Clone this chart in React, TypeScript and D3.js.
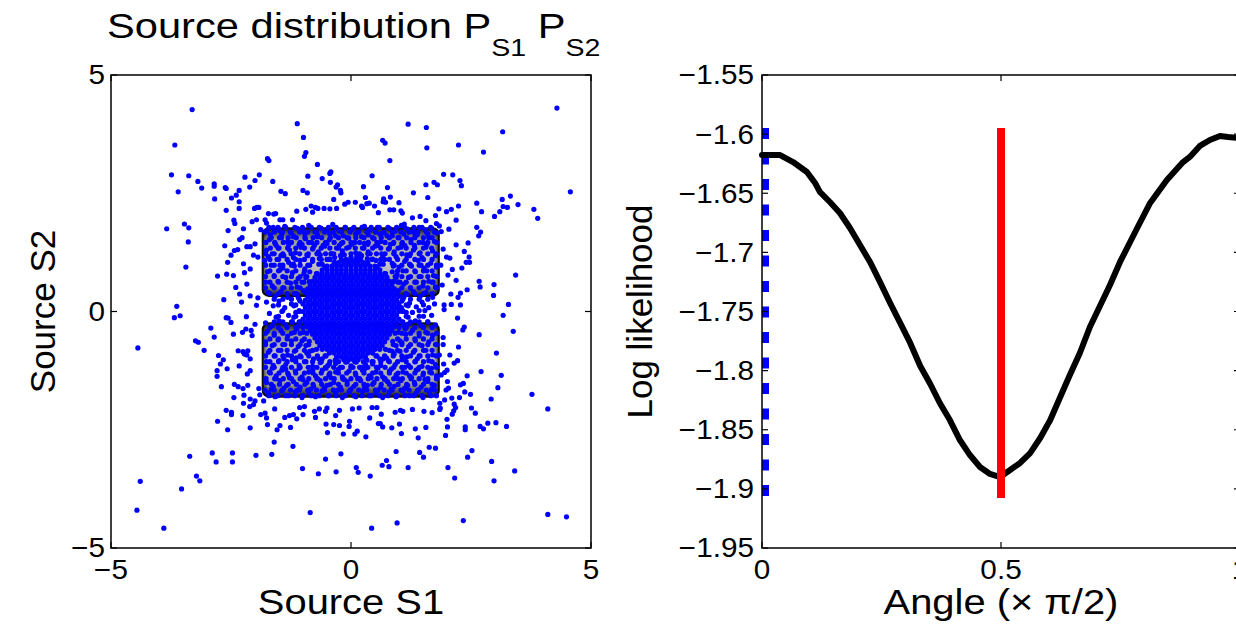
import React from 'react';
import * as d3 from 'd3';

const W = 1236;
const H = 624;
const FONT = "'Liberation Sans', Arial, Helvetica, sans-serif";

// ---------- Left panel: source samples ----------
const s1Ticks = [-5, 0, 5];
const s2Ticks = [-5, 0, 5];

// sparse samples [S1, S2]
const outerPoints: [number, number][] = [
  [-3.31, 4.27], [4.29, 4.3], [-1.12, 3.97], [1.19, 3.96], [1.57, 3.89], [3.16, 3.8], [-3.67, 3.52],
  [-0.99, 3.68], [0.66, 3.62], [0.71, 3.56], [1.58, 3.46], [2.24, 3.52], [2.76, 3.37], [-0.94, 3.36],
  [-0.97, 3.28], [-1.74, 3.23], [-1.71, 3.19], [0.81, 3.19], [-0.7, 3.11], [-0.42, 2.95], [-0.44, 2.92],
  [-3.74, 2.89], [-3.38, 2.87], [-1.91, 2.89], [-0.9, 2.86], [0.44, 2.87], [1.93, 2.9], [2.12, 2.89],
  [-3.19, 2.75], [-2.85, 2.7], [-2.85, 2.65], [-2.62, 2.62], [-2.6, 2.6], [-3.11, 2.61], [-2.21, 2.84],
  [-2.0, 2.77], [-2.11, 2.63], [-1.63, 2.75], [-0.6, 2.81], [-0.43, 2.73], [-0.28, 2.68], [-0.31, 2.63],
  [0.26, 2.64], [0.76, 2.62], [1.56, 2.68], [1.73, 2.73], [1.8, 2.68], [2.27, 2.77], [2.3, 2.66],
  [-3.6, 2.53], [-2.84, 2.38], [-2.33, 2.56], [-2.39, 2.46], [-2.49, 2.4], [-2.33, 2.32], [-2.33, 2.18],
  [-2.6, 2.14], [-1.46, 2.54], [-1.37, 2.49], [-1.0, 2.56], [-0.91, 2.51], [-0.22, 2.56], [-0.21, 2.51],
  [-0.36, 2.37], [0.3, 2.41], [0.82, 2.42], [0.68, 2.38], [1.3, 2.51], [1.6, 2.41], [3.32, 2.44],
  [3.15, 2.37], [4.57, 2.53], [2.62, 2.29], [2.24, 2.23], [3.17, 2.22], [3.26, 2.2], [3.48, 2.26],
  [3.81, 2.16], [3.89, 1.97], [3.1, 2.11], [2.99, 2.01], [2.72, 2.11], [1.83, 2.17], [1.99, 2.11],
  [2.09, 2.16], [2.19, 1.93], [2.62, 1.78], [2.7, 1.68], [2.66, 1.6], [2.44, 1.45], [2.19, 1.41],
  [2.36, 1.27], [2.46, 1.15], [2.4, 1.04], [2.47, 1.04], [2.31, 0.92], [2.11, 0.89], [3.43, 0.77],
  [2.19, 0.66], [2.67, 0.64], [2.69, 0.52], [2.98, 0.57], [2.42, 0.46], [2.28, 0.39], [2.08, 0.37],
  [2.97, 0.34], [2.23, 0.3], [3.28, 0.15], [-3.84, 1.75], [-3.47, 1.85], [-3.38, 1.77], [-3.39, 1.47],
  [-3.44, 0.94], [-3.63, 0.11], [-2.78, 0.75], [-2.65, 0.25], [-2.59, 0.79], [-2.45, 0.76], [-2.63, 1.39],
  [-2.56, 1.71], [-2.44, 1.93], [-2.42, 1.86], [-2.24, 1.75], [-2.5, 1.19], [-2.57, 1.04], [-2.43, 1.29],
  [-2.36, 1.31], [-2.32, 1.52], [-2.27, 1.56], [-2.24, 1.01], [-2.22, 0.82], [-2.1, 0.9], [-2.17, 1.37],
  [-2.1, 1.37], [-2.0, 1.43], [-2.03, 1.19], [-1.94, 1.15], [-2.4, 0.51], [-2.32, 0.37], [-2.28, 0.2],
  [-2.17, 0.58], [-2.1, 0.33], [-1.94, 0.29], [-1.97, 0.13], [-2.01, 2.18], [-1.96, 2.2], [-1.92, 2.2],
  [-2.06, 1.9], [-1.97, 1.94], [-1.79, 1.94], [-1.76, 1.87], [-1.88, 1.73], [-1.72, 2.07], [-1.61, 2.06],
  [-1.57, 2.07], [-1.48, 1.94], [-1.42, 1.94], [-1.22, 1.94], [-1.13, 2.12], [-0.94, 2.16], [-0.83, 2.23],
  [-0.74, 2.2], [-0.8, 2.1], [-0.69, 2.18], [-0.56, 2.18], [-0.44, 2.17], [-0.3, 2.18], [-0.13, 2.27],
  [-0.06, 2.31], [0.09, 2.31], [0.22, 2.23], [0.24, 2.2], [0.33, 2.28], [0.38, 2.29], [0.49, 2.23],
  [0.57, 2.09], [0.67, 2.32], [0.72, 2.31], [0.81, 2.15], [0.89, 2.15], [1.0, 2.3], [1.04, 2.13],
  [1.07, 2.08], [1.11, 1.85], [1.28, 1.98], [1.44, 2.01], [1.56, 1.92], [1.76, 2.03], [1.78, 1.86],
  [1.84, 1.81], [2.04, 1.74], [1.88, 1.69], [1.92, 1.32], [1.99, 1.15], [2.06, 1.13], [1.87, 0.98],
  [2.02, 0.77], [1.9, 0.56], [1.71, 0.62], [1.94, 0.14], [1.94, 0.04], [2.09, 0.15], [2.28, 0.14],
  [-3.68, -0.13], [-3.56, -0.09], [-4.44, -0.77], [-2.92, -0.35], [-2.85, -0.54], [-3.24, -0.62],
  [-3.18, -0.65], [-3.06, -0.82], [-2.6, -0.13], [-2.56, -0.14], [-2.5, -0.23], [-2.18, -0.11],
  [-2.45, -0.48], [-2.26, -0.44], [-2.19, -0.37], [-2.08, -0.4], [-2.06, -0.51], [-2.0, -0.27],
  [-2.76, -0.93], [-2.66, -1.02], [-2.72, -1.11], [-2.58, -1.21], [-2.79, -1.25], [-2.79, -1.37],
  [-2.7, -1.59], [-2.33, -1.15], [-2.35, -0.83], [-2.25, -0.85], [-2.22, -0.9], [-2.15, -0.83],
  [-2.17, -0.92], [-2.1, -1.0], [-2.16, -1.32], [-2.1, -1.25], [-2.43, -1.54], [-2.35, -1.59],
  [-2.25, -1.63], [-2.15, -1.56], [-2.23, -1.77], [-2.44, -1.82], [-2.24, -1.94], [-2.1, -1.85],
  [-2.0, -1.89], [-2.11, -2.01], [-2.03, -1.97], [-1.92, -1.63], [-1.9, -1.76], [-1.82, -1.89],
  [-2.6, -2.09], [-2.49, -2.13], [-2.49, -2.18], [-2.25, -2.2], [-2.78, -2.32], [-2.57, -2.5],
  [-2.1, -2.46], [-1.88, -2.18], [-1.79, -2.15], [-1.76, -2.25], [-1.74, -2.39], [-1.59, -2.06],
  [-1.6, -2.76], [-1.54, -2.5], [-1.48, -2.41], [-1.38, -2.24], [-1.26, -2.45], [-1.28, -2.2],
  [-1.21, -2.85], [-1.2, -2.18], [-1.13, -2.27], [-1.07, -2.03], [-1.0, -2.18], [-0.97, -2.01],
  [-0.76, -2.11], [-0.74, -2.24], [-0.66, -2.06], [-0.53, -2.11], [-0.5, -2.04], [-0.49, -2.56],
  [-0.52, -2.38], [-0.36, -2.39], [-0.24, -2.41], [-0.32, -2.2], [-0.24, -2.09], [-0.16, -2.59],
  [-0.03, -2.32], [-0.04, -2.43], [0.08, -2.59], [0.13, -2.53], [0.03, -2.06], [0.17, -2.04],
  [0.31, -2.65], [0.39, -2.25], [0.44, -2.03], [0.54, -2.03], [0.63, -2.17], [0.57, -2.37],
  [0.61, -2.37], [0.66, -2.44], [0.85, -2.46], [0.92, -2.13], [1.01, -2.38], [1.05, -2.58],
  [1.03, -2.09], [1.08, -2.11], [1.28, -2.07], [1.34, -2.48], [1.4, -2.67], [1.56, -2.45],
  [1.52, -2.11], [1.69, -2.14], [1.85, -2.07], [1.97, -2.62], [2.0, -2.28], [2.01, -2.44],
  [2.11, -2.17], [2.14, -2.1], [2.18, -2.03], [2.38, -2.44], [2.38, -2.5], [2.51, -2.04],
  [2.59, -2.15], [2.69, -2.43], [2.76, -2.48], [2.85, -2.36], [3.02, -2.35], [3.24, -2.43],
  [2.92, -1.85], [2.49, -1.75], [2.37, -1.7], [2.28, -1.55], [2.34, -1.52], [2.42, -1.36],
  [2.71, -1.27], [3.13, -1.35], [3.06, -1.61], [3.03, -0.88], [3.77, -1.75], [4.1, -2.06],
  [2.22, -1.04], [2.24, -0.75], [2.67, -0.49], [3.38, -0.42], [3.17, -0.08], [2.22, -0.14],
  [2.36, -0.33], [2.33, -0.39], [2.15, -1.09], [2.06, -0.92], [1.92, -0.55], [1.92, -0.7],
  [1.84, -0.92], [1.93, -1.11], [1.95, -1.29], [2.01, -1.48], [1.98, -1.66], [2.1, -1.83],
  [2.26, -1.82], [2.15, -1.96], [1.95, -1.87], [1.86, -2.04], [1.85, -1.94], [2.03, -1.62],
  [1.88, -1.34], [2.0, -1.24],
  [-3.36, -3.06], [-2.89, -2.99], [-2.81, -3.18], [-2.47, -2.99], [-2.47, -3.18], [-1.98, -3.04],
  [-1.65, -3.02], [-3.22, -3.48], [-3.15, -3.58], [-3.53, -3.75], [-4.39, -3.59], [-4.46, -4.2],
  [-3.9, -4.58], [-1.01, -3.32], [-0.68, -3.43], [-0.53, -3.12], [-0.31, -3.39], [-0.21, -3.01],
  [0.11, -3.3], [0.15, -3.4], [0.4, -3.48], [0.65, -3.25], [0.74, -3.15], [0.79, -3.28],
  [0.94, -2.96], [1.19, -3.3], [1.43, -2.98], [1.51, -3.08], [1.63, -2.87], [1.76, -2.89],
  [2.02, -3.3], [2.16, -3.52], [2.43, -3.08], [2.52, -2.94], [2.93, -3.17], [2.98, -3.58],
  [3.41, -3.37], [-0.85, -4.25], [0.43, -4.58], [0.96, -4.47], [2.34, -4.42], [4.1, -4.29],
  [4.49, -4.34],
];

// samples inside the two squares, around the dense centre
const innerPoints: [number, number][] = [
  [-1.75, 1.7], [-1.62, 1.78], [-1.5, 1.72], [-1.38, 1.8], [-1.25, 1.66], [-1.12, 1.76], [-1.0, 1.7],
  [-0.88, 1.82], [-0.75, 1.68], [-0.62, 1.76], [-0.5, 1.72], [-0.38, 1.84], [-0.25, 1.7], [-0.12, 1.78],
  [0.02, 1.74], [0.15, 1.68], [0.28, 1.8], [0.4, 1.72], [0.55, 1.78], [0.68, 1.66], [0.8, 1.76],
  [0.92, 1.7], [1.05, 1.82], [1.18, 1.74], [1.3, 1.68], [1.42, 1.78], [1.55, 1.72], [1.68, 1.76], [1.78, 1.66],
  [-1.68, 1.62], [-1.44, 1.64], [-1.2, 1.6], [-0.96, 1.64], [-0.7, 1.62], [-0.44, 1.64], [-0.16, 1.6],
  [0.1, 1.64], [0.36, 1.62], [0.6, 1.64], [0.86, 1.6], [1.1, 1.64], [1.34, 1.62], [1.6, 1.64],
  [-1.7, 1.52], [-1.58, 1.44], [-1.45, 1.56], [-1.32, 1.48], [-1.2, 1.58], [-1.08, 1.42], [-0.95, 1.54],
  [-0.82, 1.46], [-0.7, 1.58], [-0.58, 1.4], [-0.45, 1.52], [-0.32, 1.6], [-0.2, 1.44], [-0.05, 1.55],
  [0.08, 1.46], [0.22, 1.58], [0.35, 1.42], [0.48, 1.54], [0.62, 1.48], [0.75, 1.6], [0.88, 1.44],
  [1.0, 1.56], [1.12, 1.4], [1.25, 1.52], [1.38, 1.62], [1.5, 1.46], [1.62, 1.56], [1.74, 1.48],
  [-1.56, 1.4], [-1.3, 1.4], [-1.02, 1.42], [-0.76, 1.4], [-0.5, 1.44], [-0.24, 1.4], [0.02, 1.42],
  [0.28, 1.44], [0.56, 1.4], [0.82, 1.42], [1.06, 1.44], [1.32, 1.4], [1.58, 1.42],
  [-1.76, 1.3], [-1.64, 1.22], [-1.52, 1.34], [-1.4, 1.18], [-1.28, 1.3], [-1.16, 1.24], [-1.04, 1.36],
  [-0.92, 1.2], [-0.8, 1.32], [-0.68, 1.26], [-0.55, 1.38], [-0.42, 1.22], [-0.3, 1.34], [-0.18, 1.28],
  [-0.04, 1.36], [0.1, 1.24], [0.24, 1.34], [0.36, 1.26], [0.5, 1.38], [0.64, 1.22], [0.78, 1.32],
  [0.9, 1.26], [1.04, 1.36], [1.16, 1.2], [1.3, 1.3], [1.44, 1.24], [1.56, 1.36], [1.7, 1.28],
  [-1.72, 1.16], [-1.46, 1.18], [-1.2, 1.14], [-0.9, 1.18], [-0.64, 1.2], [-0.4, 1.22], [-0.14, 1.2],
  [0.12, 1.16], [0.4, 1.22], [0.66, 1.18], [0.94, 1.16], [1.22, 1.18], [1.48, 1.14], [1.76, 1.18],
  [-1.8, 1.08], [-1.66, 0.98], [-1.54, 1.1], [-1.42, 0.92], [-1.3, 1.04], [-1.18, 0.96], [-1.06, 1.08],
  [-0.96, 0.9], [-0.8, 1.06], [-0.66, 1.12], [-0.5, 1.1], [-0.34, 1.14], [0.34, 1.12], [0.52, 1.08],
  [0.7, 1.1], [0.86, 1.02], [1.0, 0.94], [1.12, 1.06], [1.26, 0.96], [1.4, 1.08], [1.52, 0.92],
  [1.66, 1.02], [1.78, 0.94], [-1.48, 0.98], [-1.2, 1.0], [1.22, 1.0], [1.46, 0.98], [-0.86, 0.98], [0.88, 0.96],
  [-1.74, 0.84], [-1.6, 0.76], [-1.48, 0.88], [-1.36, 0.72], [-1.22, 0.82], [-1.1, 0.7], [-0.98, 0.8],
  [0.96, 0.78], [1.08, 0.86], [1.2, 0.72], [1.34, 0.84], [1.46, 0.74], [1.58, 0.86], [1.72, 0.76],
  [-1.78, 0.62], [-1.64, 0.54], [-1.52, 0.64], [-1.4, 0.5], [-1.26, 0.6], [-1.12, 0.52], [1.1, 0.58],
  [1.24, 0.5], [1.36, 0.62], [1.5, 0.54], [1.62, 0.64], [1.76, 0.52],
  [-1.72, 0.4], [-1.58, 0.32], [-1.46, 0.42], [-1.32, 0.3], [-1.18, 0.38], [1.16, 0.36], [1.3, 0.42],
  [1.44, 0.32], [1.56, 0.4], [1.7, 0.3],
  [-1.76, 0.2], [-1.62, 0.12], [-1.5, 0.22], [-1.38, 0.08], [-1.24, 0.16], [1.22, 0.18], [1.36, 0.1],
  [1.48, 0.2], [1.62, 0.08], [1.74, 0.16],
  [-1.7, -0.04], [-1.56, -0.12], [-1.44, 0.0], [-1.3, -0.08], [1.28, -0.02], [1.42, -0.1], [1.54, 0.02], [1.68, -0.08],
  [-1.78, -0.24], [-1.64, -0.3], [-1.5, -0.2], [-1.36, -0.28], [-1.22, -0.22], [1.2, -0.26], [1.34, -0.2],
  [1.46, -0.3], [1.6, -0.22], [1.76, -0.28],
  [-1.74, -0.42], [-1.6, -0.5], [-1.46, -0.4], [-1.32, -0.52], [-1.18, -0.44], [1.14, -0.48], [1.28, -0.4],
  [1.42, -0.52], [1.56, -0.44], [1.7, -0.5],
  [-1.78, -0.64], [-1.64, -0.72], [-1.52, -0.6], [-1.38, -0.7], [-1.24, -0.62], [-1.1, -0.74], [1.06, -0.66],
  [1.2, -0.74], [1.34, -0.62], [1.48, -0.72], [1.62, -0.64], [1.76, -0.7],
  [-1.72, -0.86], [-1.58, -0.94], [-1.46, -0.82], [-1.32, -0.92], [-1.18, -0.84], [-1.04, -0.96], [-0.92, -0.88],
  [0.9, -0.9], [1.02, -0.84], [1.16, -0.96], [1.3, -0.86], [1.44, -0.94], [1.56, -0.82], [1.7, -0.92],
  [-1.4, -1.0], [-1.14, -0.98], [1.1, -0.98], [1.38, -1.0], [-0.78, -1.0], [0.74, -0.98],
  [-1.76, -1.06], [-1.62, -1.14], [-1.5, -1.04], [-1.36, -1.12], [-1.22, -1.02], [-1.08, -1.14], [-0.94, -1.06],
  [-0.8, -1.16], [-0.64, -1.08], [-0.48, -1.14], [-0.32, -1.1], [0.3, -1.12], [0.46, -1.06], [0.62, -1.14],
  [0.78, -1.04], [0.92, -1.12], [1.06, -1.02], [1.2, -1.14], [1.34, -1.06], [1.48, -1.16], [1.62, -1.04], [1.76, -1.12],
  [-1.64, -1.2], [-1.36, -1.22], [-1.08, -1.2], [-0.8, -1.24], [-0.52, -1.2], [-0.26, -1.22], [0.04, -1.18],
  [0.28, -1.22], [0.56, -1.2], [0.84, -1.22], [1.12, -1.18], [1.4, -1.22], [1.68, -1.2],
  [-1.7, -1.28], [-1.56, -1.36], [-1.44, -1.24], [-1.3, -1.34], [-1.16, -1.26], [-1.02, -1.38], [-0.88, -1.28],
  [-0.74, -1.36], [-0.6, -1.24], [-0.46, -1.34], [-0.32, -1.28], [-0.18, -1.38], [-0.04, -1.26], [0.1, -1.34],
  [0.24, -1.24], [0.38, -1.36], [0.52, -1.28], [0.66, -1.38], [0.8, -1.26], [0.94, -1.34], [1.08, -1.28],
  [1.22, -1.36], [1.36, -1.24], [1.5, -1.34], [1.64, -1.28], [1.78, -1.36],
  [-1.56, -1.42], [-1.28, -1.4], [-1.0, -1.44], [-0.7, -1.42], [-0.42, -1.4], [-0.14, -1.44], [0.14, -1.42],
  [0.42, -1.4], [0.7, -1.44], [0.98, -1.42], [1.26, -1.4], [1.54, -1.44],
  [-1.76, -1.5], [-1.62, -1.58], [-1.48, -1.46], [-1.34, -1.56], [-1.2, -1.48], [-1.06, -1.6], [-0.92, -1.5],
  [-0.78, -1.58], [-0.64, -1.46], [-0.5, -1.56], [-0.36, -1.5], [-0.22, -1.6], [-0.08, -1.48], [0.06, -1.58],
  [0.2, -1.46], [0.34, -1.56], [0.48, -1.5], [0.62, -1.6], [0.76, -1.48], [0.9, -1.58], [1.04, -1.46],
  [1.18, -1.56], [1.32, -1.5], [1.46, -1.6], [1.6, -1.48], [1.74, -1.56],
  [-1.66, -1.64], [-1.4, -1.62], [-1.12, -1.66], [-0.84, -1.64], [-0.56, -1.62], [-0.28, -1.66], [0.0, -1.64],
  [0.28, -1.62], [0.56, -1.66], [0.84, -1.64], [1.12, -1.62], [1.4, -1.66], [1.68, -1.64],
  [-1.72, -1.72], [-1.58, -1.8], [-1.44, -1.68], [-1.3, -1.78], [-1.16, -1.7], [-1.02, -1.82], [-0.88, -1.72],
  [-0.74, -1.8], [-0.6, -1.68], [-0.46, -1.78], [-0.32, -1.72], [-0.18, -1.82], [-0.04, -1.7], [0.1, -1.8],
  [0.24, -1.68], [0.38, -1.78], [0.52, -1.72], [0.66, -1.82], [0.8, -1.7], [0.94, -1.8], [1.08, -1.68],
  [1.22, -1.78], [1.36, -1.72], [1.5, -1.82], [1.64, -1.7], [1.78, -1.78],
];

// samples crowding the rim of the dense centre
const rimPoints: [number, number][] = [
  [1.08, 0.0], [1.06, 0.22], [0.99, 0.44], [0.87, 0.63], [0.72, 0.8], [0.54, 0.94], [0.33, 1.03],
  [0.11, 1.07], [-0.11, 1.07], [-0.33, 1.03], [-0.54, 0.94], [-0.72, 0.8], [-0.87, 0.63], [-0.99, 0.44],
  [-1.06, 0.22], [-1.08, 0.0], [-1.06, -0.22], [-0.99, -0.44], [-0.87, -0.63], [-0.72, -0.8],
  [-0.54, -0.94], [-0.33, -1.03], [-0.11, -1.07], [0.11, -1.07], [0.33, -1.03], [0.54, -0.94],
  [0.72, -0.8], [0.87, -0.63], [0.99, -0.44], [1.06, -0.22],
  [1.19, 0.12], [1.13, 0.37], [1.02, 0.62], [0.86, 0.84], [0.67, 1.0], [0.45, 1.11], [0.22, 1.18],
  [-0.22, 1.18], [-0.45, 1.11], [-0.67, 1.0], [-0.86, 0.84], [-1.02, 0.62], [-1.13, 0.37], [-1.19, 0.12],
  [-1.19, -0.12], [-1.13, -0.37], [-1.02, -0.62], [-0.86, -0.84], [-0.67, -1.0], [-0.45, -1.11],
  [-0.22, -1.18], [0.22, -1.18], [0.45, -1.11], [0.67, -1.0], [0.86, -0.84], [1.02, -0.62],
  [1.13, -0.37], [1.19, -0.12],
  [1.15, -0.02], [1.1, 0.3], [0.94, 0.72], [0.6, 1.0], [0.0, 1.15], [-0.6, 1.0], [-0.94, 0.72],
  [-1.1, 0.3], [-1.15, -0.02], [-1.1, -0.3], [-0.94, -0.72], [-0.6, -1.0], [0.0, -1.15], [0.6, -1.0],
  [0.94, -0.72], [1.1, -0.3],
];

// extra rows of samples filling the squares: S2 level and the S1 values on it
const fillS2 = [1.78, 1.68, 1.56, 1.46, 1.34, 1.22, 1.1, 0.98, 0.86, 0.74, 0.62, 0.5, 0.38, 0.26, 0.14,
  0.02, -0.1, -0.22, -0.34, -0.46, -0.58, -0.7, -0.82, -0.94, -1.06, -1.18, -1.3, -1.42, -1.54, -1.66, -1.78];
const fillS1 = [
  [-1.71, -1.52, -1.36, -1.17, -1.01, -0.83, -0.66, -0.47, -0.31, -0.12, 0.06, 0.23, 0.42, 0.59, 0.77, 0.95, 1.12, 1.31, 1.48, 1.66],
  [-1.79, -1.6, -1.43, -1.26, -1.07, -0.9, -0.72, -0.55, -0.37, -0.2, -0.02, 0.16, 0.33, 0.51, 0.69, 0.86, 1.04, 1.21, 1.39, 1.57, 1.74],
  [-1.66, -1.49, -1.31, -1.14, -0.96, -0.79, -0.61, -0.43, -0.26, -0.08, 0.1, 0.27, 0.45, 0.63, 0.8, 0.98, 1.16, 1.33, 1.51, 1.69],
  [-1.77, -1.59, -1.41, -1.24, -1.06, -0.88, -0.71, -0.53, -0.35, -0.17, 0.0, 0.18, 0.36, 0.54, 0.71, 0.89, 1.07, 1.25, 1.42, 1.6, 1.78],
  [-1.68, -1.5, -1.32, -1.15, -0.97, -0.79, -0.62, -0.44, -0.26, -0.09, 0.09, 0.27, 0.45, 0.62, 0.8, 0.98, 1.15, 1.33, 1.51, 1.68],
  [-1.78, -1.6, -1.42, -1.25, -1.07, -0.89, -0.71, -0.53, -0.36, -0.18, 0.0, 0.18, 0.35, 0.53, 0.71, 0.89, 1.06, 1.24, 1.42, 1.6, 1.78],
  [-1.69, -1.51, -1.33, -1.15, -0.97, -0.8, -0.62, -0.44, 0.44, 0.62, 0.8, 0.97, 1.15, 1.33, 1.51, 1.69],
  [-1.78, -1.6, -1.42, -1.24, -1.06, -0.9, 0.9, 1.06, 1.24, 1.42, 1.6, 1.78],
  [-1.69, -1.51, -1.33, -1.15, -0.97, 0.97, 1.15, 1.33, 1.51, 1.69],
  [-1.78, -1.6, -1.42, -1.24, -1.06, -0.92, 0.92, 1.06, 1.24, 1.42, 1.6, 1.78],
  [-1.69, -1.51, -1.33, -1.15, -0.98, 0.98, 1.15, 1.33, 1.51, 1.69],
  [-1.78, -1.6, -1.42, -1.24, -1.06, 1.06, 1.24, 1.42, 1.6, 1.78],
  [-1.69, -1.51, -1.33, -1.15, 1.15, 1.33, 1.51, 1.69],
  [-1.6, -1.42, -1.24, -1.08, 1.08, 1.24, 1.42, 1.6],
  [-1.51, -1.15, 1.15, 1.51],
  [-1.42, -1.08, 1.08, 1.42],
  [-1.51, -1.15, 1.15, 1.51],
  [-1.6, -1.42, -1.24, -1.08, 1.08, 1.24, 1.42, 1.6],
  [-1.69, -1.51, -1.33, -1.15, -1.0, 1.0, 1.15, 1.33, 1.51, 1.69],
  [-1.78, -1.6, -1.42, -1.24, -1.06, -0.92, 0.92, 1.06, 1.24, 1.42, 1.6, 1.78],
  [-1.69, -1.51, -1.33, -1.15, -0.97, 0.97, 1.15, 1.33, 1.51, 1.69],
  [-1.78, -1.6, -1.42, -1.24, -1.06, -0.88, 0.88, 1.06, 1.24, 1.42, 1.6, 1.78],
  [-1.69, -1.51, -1.33, -1.15, -0.97, -0.8, 0.8, 0.97, 1.15, 1.33, 1.51, 1.69],
  [-1.78, -1.6, -1.42, -1.24, -1.06, -0.88, -0.7, -0.52, 0.52, 0.7, 0.88, 1.06, 1.24, 1.42, 1.6, 1.78],
  [-1.69, -1.51, -1.33, -1.15, -0.97, -0.8, -0.62, -0.44, -0.26, -0.08, 0.08, 0.26, 0.44, 0.62, 0.8, 0.97, 1.15, 1.33, 1.51, 1.69],
  [-1.78, -1.6, -1.42, -1.24, -1.06, -0.89, -0.71, -0.53, -0.36, -0.18, 0.0, 0.18, 0.35, 0.53, 0.71, 0.89, 1.06, 1.24, 1.42, 1.6, 1.78],
  [-1.68, -1.5, -1.32, -1.15, -0.97, -0.79, -0.62, -0.44, -0.26, -0.09, 0.09, 0.27, 0.45, 0.62, 0.8, 0.98, 1.15, 1.33, 1.51, 1.68],
  [-1.77, -1.59, -1.41, -1.24, -1.06, -0.88, -0.71, -0.53, -0.35, -0.17, 0.0, 0.18, 0.36, 0.54, 0.71, 0.89, 1.07, 1.25, 1.42, 1.6, 1.78],
  [-1.66, -1.49, -1.31, -1.14, -0.96, -0.79, -0.61, -0.43, -0.26, -0.08, 0.1, 0.27, 0.45, 0.63, 0.8, 0.98, 1.16, 1.33, 1.51, 1.69],
  [-1.79, -1.6, -1.43, -1.26, -1.07, -0.9, -0.72, -0.55, -0.37, -0.2, -0.02, 0.16, 0.33, 0.51, 0.69, 0.86, 1.04, 1.21, 1.39, 1.57, 1.74],
  [-1.71, -1.52, -1.36, -1.17, -1.01, -0.83, -0.66, -0.47, -0.31, -0.12, 0.06, 0.23, 0.42, 0.59, 0.77, 0.95, 1.12, 1.31, 1.48, 1.66],
];

// dense centre: S2 level of each row and the S1 values on it
const coreS2 = [1.1, 1.04, 0.96, 0.88, 0.8, 0.72, 0.64, 0.56, 0.48, 0.4, 0.32, 0.24, 0.16, 0.08, 0.0,
  -0.08, -0.16, -0.24, -0.32, -0.4, -0.48, -0.56, -0.64, -0.72, -0.8, -0.88, -0.96, -1.02];
const coreS1 = [
  [-0.2, -0.1, 0, 0.1, 0.2],
  [-0.35, -0.25, -0.15, -0.05, 0.05, 0.15, 0.25, 0.35],
  [-0.5, -0.4, -0.3, -0.2, -0.1, 0, 0.1, 0.2, 0.3, 0.4, 0.5],
  [-0.6, -0.5, -0.4, -0.3, -0.2, -0.1, 0, 0.1, 0.2, 0.3, 0.4, 0.5, 0.6],
  [-0.7, -0.6, -0.5, -0.4, -0.3, -0.2, -0.1, 0, 0.1, 0.2, 0.3, 0.4, 0.5, 0.6, 0.7],
  [-0.75, -0.65, -0.55, -0.45, -0.35, -0.25, -0.15, -0.05, 0.05, 0.15, 0.25, 0.35, 0.45, 0.55, 0.65, 0.75],
  [-0.8, -0.7, -0.6, -0.5, -0.4, -0.3, -0.2, -0.1, 0, 0.1, 0.2, 0.3, 0.4, 0.5, 0.6, 0.7, 0.8, 0.9],
  [-0.85, -0.75, -0.65, -0.55, -0.45, -0.35, -0.25, -0.15, -0.05, 0.05, 0.15, 0.25, 0.35, 0.45, 0.55, 0.65, 0.75, 0.85],
  [-0.9, -0.8, -0.7, -0.6, -0.5, -0.4, -0.3, -0.2, -0.1, 0, 0.1, 0.2, 0.3, 0.4, 0.5, 0.6, 0.7, 0.8, 0.9],
  [-0.95, -0.85, -0.75, -0.65, -0.55, -0.45, -0.35, -0.25, -0.15, -0.05, 0.05, 0.15, 0.25, 0.35, 0.45, 0.55, 0.65, 0.75, 0.85, 0.95],
  [-0.9, -0.8, -0.7, -0.6, -0.5, -0.4, -0.3, -0.2, -0.1, 0, 0.1, 0.2, 0.3, 0.4, 0.5, 0.6, 0.7, 0.8, 0.9, 1.0],
  [-0.95, -0.85, -0.75, -0.65, -0.55, -0.45, -0.35, -0.25, -0.15, -0.05, 0.05, 0.15, 0.25, 0.35, 0.45, 0.55, 0.65, 0.75, 0.85, 0.95],
  [-1.0, -0.9, -0.8, -0.7, -0.6, -0.5, -0.4, -0.3, -0.2, -0.1, 0, 0.1, 0.2, 0.3, 0.4, 0.5, 0.6, 0.7, 0.8, 0.9, 1.0],
  [-0.95, -0.85, -0.75, -0.65, -0.55, -0.45, -0.35, -0.25, -0.15, -0.05, 0.05, 0.15, 0.25, 0.35, 0.45, 0.55, 0.65, 0.75, 0.85, 0.95, 1.05],
  [-1.0, -0.9, -0.8, -0.7, -0.6, -0.5, -0.4, -0.3, -0.2, -0.1, 0, 0.1, 0.2, 0.3, 0.4, 0.5, 0.6, 0.7, 0.8, 0.9, 1.0],
  [-0.95, -0.85, -0.75, -0.65, -0.55, -0.45, -0.35, -0.25, -0.15, -0.05, 0.05, 0.15, 0.25, 0.35, 0.45, 0.55, 0.65, 0.75, 0.85, 0.95],
  [-1.0, -0.9, -0.8, -0.7, -0.6, -0.5, -0.4, -0.3, -0.2, -0.1, 0, 0.1, 0.2, 0.3, 0.4, 0.5, 0.6, 0.7, 0.8, 0.9, 1.0],
  [-0.95, -0.85, -0.75, -0.65, -0.55, -0.45, -0.35, -0.25, -0.15, -0.05, 0.05, 0.15, 0.25, 0.35, 0.45, 0.55, 0.65, 0.75, 0.85, 0.95],
  [-0.9, -0.8, -0.7, -0.6, -0.5, -0.4, -0.3, -0.2, -0.1, 0, 0.1, 0.2, 0.3, 0.4, 0.5, 0.6, 0.7, 0.8, 0.9],
  [-0.85, -0.75, -0.65, -0.55, -0.45, -0.35, -0.25, -0.15, -0.05, 0.05, 0.15, 0.25, 0.35, 0.45, 0.55, 0.65, 0.75, 0.85],
  [-0.8, -0.7, -0.6, -0.5, -0.4, -0.3, -0.2, -0.1, 0, 0.1, 0.2, 0.3, 0.4, 0.5, 0.6, 0.7, 0.8],
  [-0.75, -0.65, -0.55, -0.45, -0.35, -0.25, -0.15, -0.05, 0.05, 0.15, 0.25, 0.35, 0.45, 0.55, 0.65, 0.75],
  [-0.7, -0.6, -0.5, -0.4, -0.3, -0.2, -0.1, 0, 0.1, 0.2, 0.3, 0.4, 0.5, 0.6, 0.7],
  [-0.65, -0.55, -0.45, -0.35, -0.25, -0.15, -0.05, 0.05, 0.15, 0.25, 0.35, 0.45, 0.55, 0.65],
  [-0.6, -0.5, -0.4, -0.3, -0.2, -0.1, 0, 0.1, 0.2, 0.3, 0.4, 0.5, 0.6],
  [-0.45, -0.35, -0.25, -0.15, -0.05, 0.05, 0.15, 0.25, 0.35, 0.45],
  [-0.3, -0.2, -0.1, 0, 0.1, 0.2, 0.3],
  [-0.15, -0.05, 0.05, 0.15],
];

// joint pdf shown as two grey squares: S1 span and S2 spans
const squareS1 = [-1.84, 1.83];
const squareS2 = [[0.33, 1.76], [-1.8, -0.25]];

// ---------- Right panel: log likelihood vs angle ----------
const angle = [0, 0.038, 0.065, 0.094, 0.111, 0.121, 0.142, 0.163, 0.184, 0.205, 0.226, 0.247, 0.268,
  0.289, 0.31, 0.331, 0.352, 0.372, 0.393, 0.414, 0.435, 0.456, 0.477, 0.498, 0.519, 0.54, 0.561,
  0.582, 0.603, 0.623, 0.644, 0.665, 0.686, 0.707, 0.728, 0.749, 0.785, 0.812, 0.847, 0.879, 0.895,
  0.916, 0.937, 0.958, 0.975, 1.0];
const logLik = [-1.6177, -1.6177, -1.6236, -1.632, -1.6413, -1.6489, -1.6574, -1.6667, -1.6794,
  -1.6938, -1.7081, -1.7251, -1.7428, -1.7597, -1.7766, -1.7961, -1.8113, -1.8274, -1.8418, -1.8587,
  -1.8714, -1.8815, -1.8874, -1.89, -1.884, -1.8781, -1.8697, -1.857, -1.8418, -1.8232, -1.8037,
  -1.7851, -1.7631, -1.7453, -1.7276, -1.7081, -1.6794, -1.6582, -1.6388, -1.6244, -1.6193, -1.61,
  -1.605, -1.6016, -1.6024, -1.6033];
const angleTicks = [0, 0.5, 1];
const llTicks = [-1.55, -1.6, -1.65, -1.7, -1.75, -1.8, -1.85, -1.9, -1.95];
const initialAngle = 0;
const trueAngle = 0.5;
const markerSpan = [-1.9077, -1.5948];

const fmt = (v: number) => String(+v.toFixed(2)).replace('-', '\u2212');

const HText = ({ x, y, anchor = 'middle', size, sx = 1.1, dy, children }: any) => (
  <text transform={`translate(${x},${y}) scale(${sx},1)`} textAnchor={anchor} fontSize={size} dy={dy}>
    {children}
  </text>
);

export default function App() {
  const xL = d3.scaleLinear().domain([-5, 5]).range([111, 591]);
  const yL = d3.scaleLinear().domain([-5, 5]).range([548, 75]);
  const xR = d3.scaleLinear().domain([0, 1]).range([762, 1240]);
  const yR = d3.scaleLinear().domain([-1.95, -1.55]).range([548, 75]);

  const rows = (ys: number[], xs: number[][]) =>
    ys.flatMap((y, i) => xs[i].map((x) => [x, y] as [number, number]));
  const allPoints = [...innerPoints, ...rows(fillS2, fillS1), ...rimPoints, ...rows(coreS2, coreS1), ...outerPoints];

  const llData = angle.map((a, i) => [a, logLik[i]] as [number, number]);
  const line = d3.line<[number, number]>().x((d) => xR(d[0])).y((d) => yR(d[1]));

  const tl = 6;
  const [l0, l1] = [xL.range()[0], xL.range()[1]];
  const [b0, t0] = [yL.range()[0], yL.range()[1]];
  const [r0, r1] = [xR.range()[0], xR.range()[1]];

  return (
    <svg width={W} height={H} style={{ position: 'absolute', left: 0, top: 0, background: '#fff' }} fontFamily={FONT} fill="#000">
      <defs>
        <linearGradient id="gv" x1="0" y1="0" x2="0" y2="1">
          <stop offset="0" stopColor="#111" />
          <stop offset="0.06" stopColor="#555" />
          <stop offset="0.16" stopColor="#b5b5b5" />
          <stop offset="0.5" stopColor="#ececec" />
          <stop offset="0.84" stopColor="#b5b5b5" />
          <stop offset="0.94" stopColor="#555" />
          <stop offset="1" stopColor="#111" />
        </linearGradient>
        <linearGradient id="gh" x1="0" y1="0" x2="1" y2="0">
          <stop offset="0" stopColor="#000" stopOpacity="0.7" />
          <stop offset="0.03" stopColor="#000" stopOpacity="0.15" />
          <stop offset="0.97" stopColor="#000" stopOpacity="0.15" />
          <stop offset="1" stopColor="#000" stopOpacity="0.7" />
        </linearGradient>
        <clipPath id="clipR">
          <rect x={r0} y={t0} width={r1 - r0} height={b0 - t0} />
        </clipPath>
      </defs>

      {/* ---------- Left panel ---------- */}
      <HText x={107} y={38} anchor="start" size={35} sx={1.19}>
        <tspan>Source distribution P</tspan>
        <tspan fontSize={24} dy={18}>S1</tspan>
        <tspan dy={-18}>{' P'}</tspan>
        <tspan fontSize={24} dy={18}>S2</tspan>
      </HText>

      {squareS2.map(([lo, hi], i) => (
        <g key={i}>
          <rect x={xL(squareS1[0])} y={yL(hi)} width={xL(squareS1[1]) - xL(squareS1[0])} height={yL(lo) - yL(hi)}
            rx={6} fill="url(#gv)" stroke="#111" strokeWidth={2} />
          <rect x={xL(squareS1[0])} y={yL(hi)} width={xL(squareS1[1]) - xL(squareS1[0])} height={yL(lo) - yL(hi)}
            rx={6} fill="url(#gh)" />
        </g>
      ))}

      <g fill="#0000ff">
        {allPoints.map((p, i) => (
          <circle key={i} cx={xL(p[0])} cy={yL(p[1])} r={2.6} />
        ))}
      </g>

      <rect x={l0} y={t0} width={l1 - l0} height={b0 - t0} fill="none" stroke="#000" strokeWidth={1.5} />
      {s1Ticks.map((t) => (
        <g key={'xl' + t} stroke="#000" strokeWidth={1.2}>
          <line x1={xL(t)} x2={xL(t)} y1={b0} y2={b0 - tl} />
          <line x1={xL(t)} x2={xL(t)} y1={t0} y2={t0 + tl} />
        </g>
      ))}
      {s2Ticks.map((t) => (
        <g key={'yl' + t} stroke="#000" strokeWidth={1.2}>
          <line x1={l0} x2={l0 + tl} y1={yL(t)} y2={yL(t)} />
          <line x1={l1} x2={l1 - tl} y1={yL(t)} y2={yL(t)} />
        </g>
      ))}
      {s1Ticks.map((t) => (
        <HText key={'xlt' + t} x={xL(t)} y={579} size={27}>{fmt(t)}</HText>
      ))}
      {s2Ticks.map((t) => (
        <HText key={'ylt' + t} x={l0 - 6} y={yL(t)} dy="0.35em" anchor="end" size={27}>{fmt(t)}</HText>
      ))}
      <HText x={(l0 + l1) / 2} y={614} size={35} sx={1.14}>Source S1</HText>
      <text transform={`translate(55,${yL(0)}) rotate(-90)`} textAnchor="middle" fontSize={35}>Source S2</text>

      {/* ---------- Right panel ---------- */}
      <g clipPath="url(#clipR)">
        <line x1={xR(initialAngle)} x2={xR(initialAngle)} y1={yR(markerSpan[1])} y2={yR(markerSpan[0])}
          stroke="#0000ff" strokeWidth={14} strokeDasharray="11,14.5" />
      </g>
      <path d={line(llData) || ''} fill="none" stroke="#000" strokeWidth={6} strokeLinejoin="round" strokeLinecap="round" />
      <line x1={xR(trueAngle)} x2={xR(trueAngle)} y1={yR(markerSpan[1])} y2={yR(markerSpan[0])}
        stroke="#ff0000" strokeWidth={8} />

      <rect x={r0} y={t0} width={r1 - r0} height={b0 - t0} fill="none" stroke="#000" strokeWidth={1.5} />
      {angleTicks.map((t) => (
        <g key={'xr' + t} stroke="#000" strokeWidth={1.2}>
          <line x1={xR(t)} x2={xR(t)} y1={b0} y2={b0 - tl} />
          <line x1={xR(t)} x2={xR(t)} y1={t0} y2={t0 + tl} />
        </g>
      ))}
      {llTicks.map((t) => (
        <g key={'yr' + t} stroke="#000" strokeWidth={1.2}>
          <line x1={r0} x2={r0 + tl} y1={yR(t)} y2={yR(t)} />
          <line x1={r1} x2={r1 - tl} y1={yR(t)} y2={yR(t)} />
        </g>
      ))}
      {angleTicks.map((t) => (
        <HText key={'xrt' + t} x={xR(t)} y={579} size={27}>{fmt(t)}</HText>
      ))}
      {llTicks.map((t) => (
        <HText key={'yrt' + t} x={r0 - 8} y={yR(t)} dy="0.35em" anchor="end" size={27}>{fmt(t)}</HText>
      ))}
      <HText x={(r0 + xR(1)) / 2} y={614} size={35} sx={1.14}>Angle (× π/2)</HText>
      <text transform={`translate(652,${yR(-1.75)}) rotate(-90)`} textAnchor="middle" fontSize={35}>Log likelihood</text>
    </svg>
  );
}
